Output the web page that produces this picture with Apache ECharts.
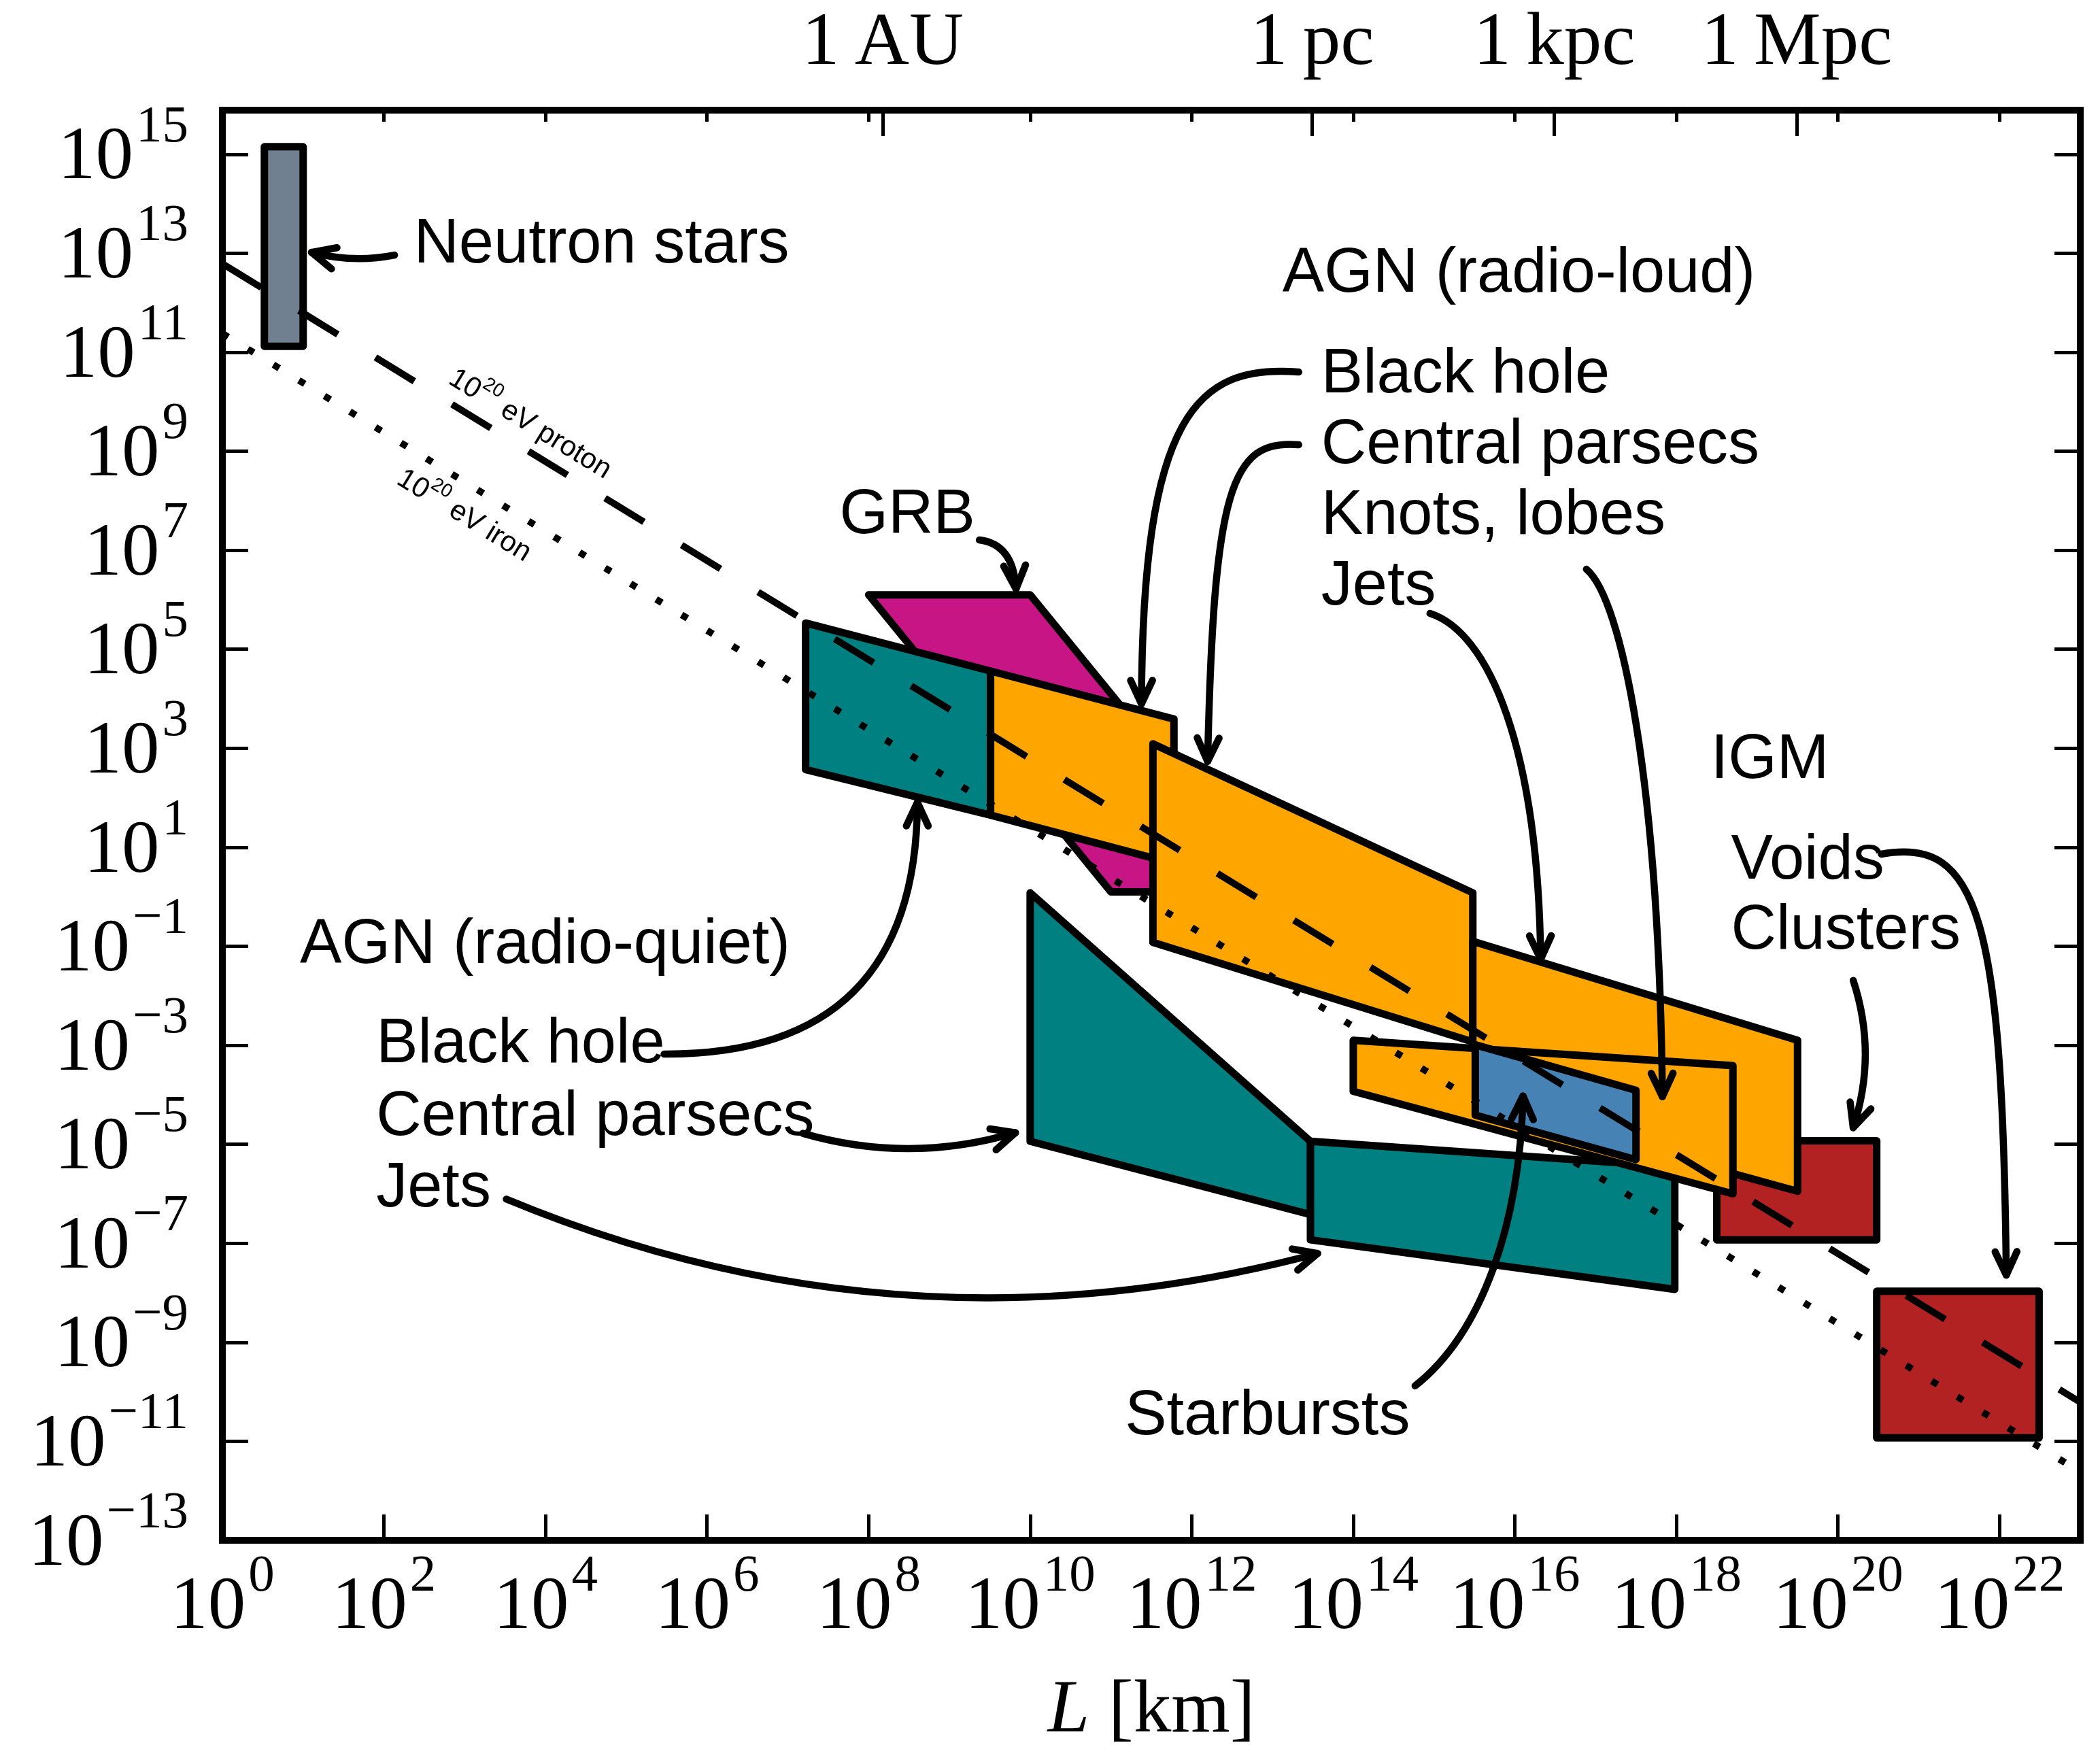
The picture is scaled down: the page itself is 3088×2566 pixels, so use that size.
<!DOCTYPE html>
<html>
<head>
<meta charset="utf-8">
<script src="https://cdn.jsdelivr.net/npm/echarts@6/dist/echarts.min.js"></script>
<style>
  html, body { margin: 0; padding: 0; background: #fff; }
  #chart { width: 3088px; height: 2566px; }
</style>
</head>
<body>
<div id="chart"></div>
<script>
// every value is log10: L in km, B in gauss
const xTicks = [0, 2, 4, 6, 8, 10, 12, 14, 16, 18, 20, 22];
const yTicks = [-13, -11, -9, -7, -5, -3, -1, 1, 3, 5, 7, 9, 11, 13, 15];
const unitNames = ['1\u2009AU', '1\u2009pc', '1\u2009kpc', '1\u2009Mpc'];
const unitLogKm = [8.175, 13.489, 16.489, 19.489];

// source regions, corners as [log L, log B]
const neutronStars = [[0.52, 15.15], [1.0, 15.15], [1.0, 11.12], [0.52, 11.12]];
const grb = [[8.0, 6.1], [10.0, 6.1], [13.0, 0.1], [11.0, 0.1]];
const rqBlackHole = [[7.22, 5.53], [9.51, 4.56], [9.51, 1.65], [7.22, 2.57]];
const rlBlackHole = [[9.51, 4.56], [11.78, 3.59], [11.78, 0.67], [9.51, 1.65]];
const rlCentral = [[11.52, 3.09], [15.48, 0.08], [15.48, -2.93], [11.52, -0.92]];
const rqCentral = [[10.0, 0.08], [13.47, -4.94], [13.47, -6.42], [10.0, -4.94]];
const rqJets = [[13.47, -4.94], [17.98, -5.45], [17.98, -7.93], [13.47, -6.93]];
const clusters = [[18.5, -4.93], [20.48, -4.93], [20.48, -6.93], [18.5, -6.93]];
const voids = [[20.48, -7.97], [22.49, -7.97], [22.49, -10.93], [20.48, -10.93]];
const rlKnots = [[15.48, -0.9], [19.5, -2.9], [19.5, -5.95], [15.48, -4.15]];
const rlJets = [[14.0, -2.9], [18.7, -3.41], [18.7, -6.0], [14.0, -3.93]];
const starbursts = [[15.51, -2.99], [17.5, -3.91], [17.5, -5.31], [15.51, -4.41]];

// Hillas limits for 1e20 eV
const protonLine = [[0, 12.79], [23, -10.21]];
const ironLine = [[0, 11.38], [23, -11.62]];

const regions = [
  { pts: grb, color: '#C71585' },
  { pts: neutronStars, color: '#708090' },
  { pts: rqBlackHole, color: '#008080' },
  { pts: rlBlackHole, color: '#FFA500' },
  { pts: rlCentral, color: '#FFA500' },
  { pts: rqCentral, color: '#008080' },
  { pts: rqJets, color: '#008080' },
  { pts: clusters, color: '#B22222' },
  { pts: voids, color: '#B22222' },
  { pts: rlKnots, color: '#FFA500' },
  { pts: rlJets, color: '#FFA500' },
  { pts: starbursts, color: '#4682B4' }
];

// annotation text, left edge / middle
const noteTexts = ['Neutron stars', 'AGN (radio-loud)', 'Black hole', 'Central parsecs', 'Knots, lobes', 'Jets',
  'GRB', 'IGM', 'Voids', 'Clusters', 'AGN (radio-quiet)', 'Black hole', 'Central parsecs', 'Jets', 'Starbursts'];
const noteL = [2.369, 13.123, 13.603, 13.603, 13.603, 13.603, 7.640, 18.426, 18.678, 18.678, 0.960, 1.904, 1.904, 1.904, 11.173];
const noteB = [13.165, 12.565, 10.532, 9.103, 7.675, 6.247, 7.695, 2.743, 0.71, -0.705, -0.993, -3.0, -4.464, -5.907, -10.513];

// arrows: start, control point(s), tip
const arrows = [
  [[2.131, 12.963], [1.618, 12.798], [1.104, 13.018]],
  [[9.371, 7.207], [9.792, 7.125], [9.825, 6.218]],
  [[13.325, 10.6], [12.063, 10.765], [11.390, 9.735], [11.378, 3.898]],
  [[13.325, 9.130], [12.483, 9.254], [12.273, 8.224], [12.197, 2.735]],
  [[16.886, 6.617], [17.323, 6.026], [17.786, 2.317], [17.827, -4.038]],
  [[14.950, 5.724], [15.682, 5.339], [16.288, 3.004], [16.320, -1.262]],
  [[14.765, -9.881], [15.598, -8.809], [16.061, -6.611], [16.101, -4.025]],
  [[20.189, -1.690], [20.488, -3.177], [20.189, -4.665]],
  [[20.538, 0.861], [21.742, 1.218], [22.036, -0.429], [22.084, -7.642]],
  [[5.468, -3.177], [8.591, -3.198], [8.604, 1.905]],
  [[7.186, -4.780], [8.503, -5.402], [9.818, -4.766]],
  [[3.515, -6.107], [8.422, -9.438], [13.558, -7.206]]
];

const lineLabelTexts = ['{n|10}{s|20}{n| eV proton}', '{n|10}{s|20}{n| eV iron}'];
const lineLabelL = [3.830, 3.013];
const lineLabelB = [9.604, 7.754];

const serif = '"Liberation Serif", "DejaVu Serif", serif';
const sans = '"Liberation Sans", "DejaVu Sans", sans-serif';

const supRich = {
  b: { fontFamily: serif, fontSize: 111, lineHeight: 140, verticalAlign: 'bottom', color: '#000' },
  s: { fontFamily: serif, fontSize: 77, lineHeight: 80, verticalAlign: 'top', color: '#000', padding: [0, 0, 0, 4] }
};
const smallRich = {
  n: { fontFamily: sans, fontSize: 42, lineHeight: 52, verticalAlign: 'bottom', color: '#000' },
  s: { fontFamily: sans, fontSize: 28, lineHeight: 30, verticalAlign: 'top', color: '#000' }
};

function powLabel(v) {
  const n = Math.round(v);
  return '{b|10}{s|' + (n < 0 ? '\u2212' + (-n) : n) + '}';
}

function unitLabel(v) {
  const i = unitLogKm.findIndex(u => Math.abs(u - v) < 1e-6);
  return i < 0 ? '' : unitNames[i];
}

const spine = { color: '#000', width: 10, cap: 'square' };
const tickStyle = { color: '#000', width: 5 };

function renderRegion(params, api) {
  const r = regions[params.dataIndex];
  return {
    type: 'polygon',
    shape: { points: r.pts.map(p => api.coord(p)) },
    style: { fill: r.color, stroke: '#000', lineWidth: 11, lineJoin: 'round' }
  };
}

function renderArrow(params, api) {
  const pts = arrows[params.dataIndex].map(p => api.coord(p));
  const s = pts[0], e = pts[pts.length - 1], c = pts[pts.length - 2];
  const shape = { x1: s[0], y1: s[1], x2: e[0], y2: e[1], cpx1: pts[1][0], cpy1: pts[1][1] };
  if (pts.length === 4) {
    shape.cpx2 = pts[2][0];
    shape.cpy2 = pts[2][1];
  }
  const dx = e[0] - c[0], dy = e[1] - c[1];
  const len = Math.hypot(dx, dy);
  const ux = dx / len, uy = dy / len;
  const head = 38, ang = 25 * Math.PI / 180;
  const cs = Math.cos(ang), sn = Math.sin(ang);
  const arm = sg => [e[0] - head * (ux * cs - sg * uy * sn), e[1] - head * (uy * cs + sg * ux * sn)];
  return {
    type: 'group',
    children: [
      { type: 'bezierCurve', shape: shape, style: { fill: 'none', stroke: '#000', lineWidth: 10.5, lineCap: 'round' } },
      { type: 'polyline', shape: { points: [arm(1), e, arm(-1)] }, style: { fill: 'none', stroke: '#000', lineWidth: 10.5, lineCap: 'round', lineJoin: 'round' } }
    ]
  };
}

function renderNote(params, api) {
  const i = params.dataIndex;
  const p = api.coord([noteL[i], noteB[i]]);
  return {
    type: 'text',
    x: p[0],
    y: p[1],
    style: { text: noteTexts[i], fill: '#000', fontFamily: sans, fontSize: 92, align: 'left', verticalAlign: 'middle' }
  };
}

function renderLineLabel(params, api) {
  const i = params.dataIndex;
  const p = api.coord([lineLabelL[i], lineLabelB[i]]);
  const a = api.coord([0, 0]);
  const b = api.coord([1, -1]);
  const rot = -Math.atan2(b[1] - a[1], b[0] - a[0]);
  return {
    type: 'text',
    x: p[0],
    y: p[1],
    rotation: rot,
    style: { text: lineLabelTexts[i], rich: smallRich, fill: '#000', fontFamily: sans, fontSize: 42, align: 'center', verticalAlign: 'middle' }
  };
}

const chart = echarts.init(document.getElementById('chart'), null, { renderer: 'canvas' });

chart.setOption({
  animation: false,
  backgroundColor: '#fff',
  textStyle: { fontFamily: serif, color: '#000' },
  grid: { left: 327, right: 29, top: 162, bottom: 301, containLabel: false, outerBoundsMode: 'none' },
  xAxis: [
    {
      type: 'value', min: 0, max: 23, position: 'bottom',
      name: '{i|L} [km]', nameLocation: 'middle', nameGap: 196,
      nameTextStyle: {
        fontFamily: serif, fontSize: 111, color: '#000',
        rich: { i: { fontFamily: serif, fontSize: 111, fontStyle: 'italic', color: '#000' } }
      },
      axisLine: { onZero: false, lineStyle: spine },
      axisTick: { inside: true, length: 38, lineStyle: tickStyle, customValues: xTicks },
      axisLabel: { customValues: xTicks, margin: 15, formatter: powLabel, rich: supRich },
      splitLine: { show: false }
    },
    {
      type: 'value', min: 0, max: 23, position: 'top',
      axisLine: { onZero: false, lineStyle: spine },
      axisTick: { inside: true, length: 38, lineStyle: tickStyle, customValues: unitLogKm },
      axisLabel: { customValues: unitLogKm, margin: 42, formatter: unitLabel, fontFamily: serif, fontSize: 111, lineHeight: 111, color: '#000' },
      splitLine: { show: false }
    },
    {
      type: 'value', min: 0, max: 23, position: 'top',
      axisLine: { show: false, onZero: false },
      axisTick: { inside: true, length: 17, lineStyle: tickStyle, customValues: xTicks },
      axisLabel: { show: false },
      splitLine: { show: false }
    }
  ],
  yAxis: [
    {
      type: 'value', min: -13, max: 15.89, position: 'left',
      axisLine: { onZero: false, lineStyle: spine },
      axisTick: { inside: true, length: 38, lineStyle: tickStyle, customValues: yTicks },
      axisLabel: { customValues: yTicks, margin: 50, formatter: powLabel, rich: supRich, padding: [0, 0, 16, 0] },
      splitLine: { show: false }
    },
    {
      type: 'value', min: -13, max: 15.89, position: 'right',
      axisLine: { onZero: false, lineStyle: spine },
      axisTick: { inside: true, length: 38, lineStyle: tickStyle, customValues: yTicks },
      axisLabel: { show: false },
      splitLine: { show: false }
    }
  ],
  series: [
    {
      type: 'custom', name: 'regions', silent: true, z: 2,
      renderItem: renderRegion,
      data: regions.map(r => r.pts[0])
    },
    {
      type: 'line', name: 'proton', data: protonLine, symbol: 'none', silent: true, z: 3,
      lineStyle: { color: '#000', width: 10, type: [67, 65], cap: 'butt' }
    },
    {
      type: 'line', name: 'iron', data: ironLine, symbol: 'none', silent: true, z: 3,
      lineStyle: { color: '#000', width: 10, type: [10, 34], cap: 'butt' }
    },
    {
      type: 'custom', name: 'arrows', silent: true, z: 4,
      renderItem: renderArrow,
      data: arrows.map(a => a[0])
    },
    {
      type: 'custom', name: 'notes', silent: true, z: 4,
      renderItem: renderNote,
      data: noteL.map((x, i) => [x, noteB[i]])
    },
    {
      type: 'custom', name: 'lineLabels', silent: true, z: 4,
      renderItem: renderLineLabel,
      data: lineLabelL.map((x, i) => [x, lineLabelB[i]])
    }
  ]
});

window.addEventListener('resize', () => chart.resize());
</script>
</body>
</html>
